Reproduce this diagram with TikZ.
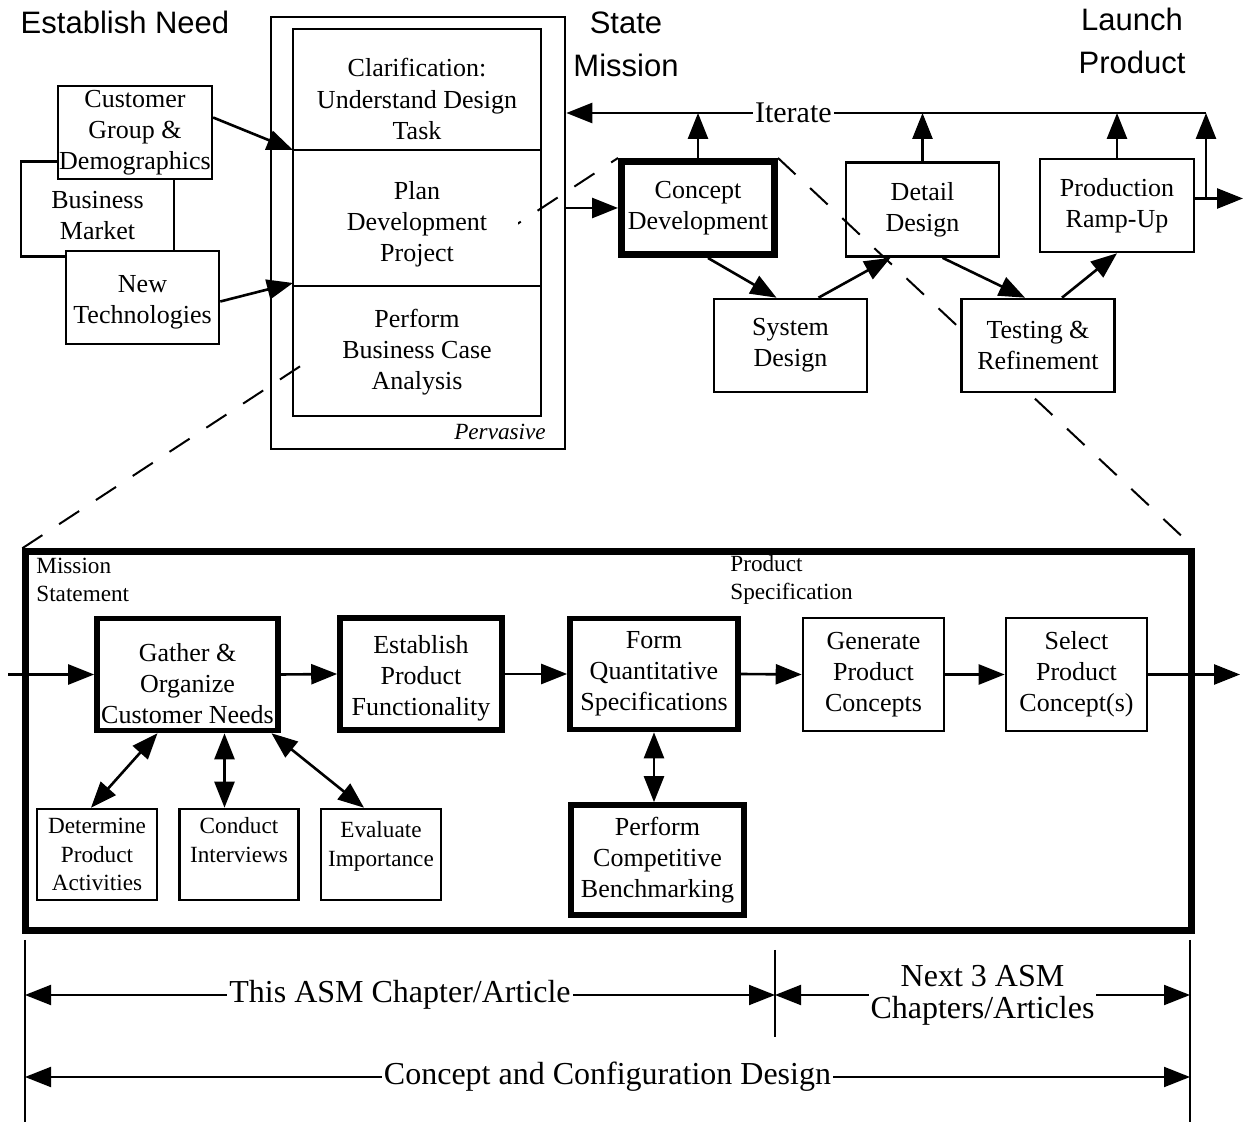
\documentclass[tikz,border=0pt]{standalone}
\usepackage{fontspec}
\setmainfont{Liberation Serif}
\newfontfamily\sansfam{Liberation Sans}
\usetikzlibrary{arrows.meta,calc}
\pgfdeclarelayer{background}
\pgfsetlayers{background,main}
\newcommand{\boxfont}{\fontsize{13}{15.6}\selectfont}
\newcommand{\smallfont}{\fontsize{11.6}{14.4}\selectfont}
\newcommand{\headfont}{\sansfam\fontsize{15.5}{21.5}\selectfont}
\newcommand{\dimfont}{\fontsize{16}{16}\selectfont}
\newcommand{\iterfont}{\fontsize{15}{18}\selectfont}
\newcommand{\droptext}[1]{\rule{0pt}{#1}}

\begin{document}
\begin{tikzpicture}[x=0.5pt,y=-0.5pt,line join=miter,>={Triangle[length=13pt,width=10pt]},
  box/.style={draw,line width=1.3pt,align=center,inner sep=0.5pt,font=\boxfont},
  heavy/.style={box,line width=2.8pt},
  minibox/.style={box,font=\smallfont},
  sect/.style={fill=white,align=center,inner sep=1pt,font=\boxfont,minimum width=101pt},
  head/.style={align=center,font=\headfont},
  note/.style={align=left,anchor=west,inner sep=0pt,font=\smallfont},
  flow/.style={->,line width=1.3pt},
  both/.style={<->,line width=1.3pt},
  zoomline/.style={line width=1pt,dash pattern=on 12pt off 10pt},
  dim/.style={<->,line width=1pt},
  tick/.style={line width=0.7pt},
  dimlabel/.style={fill=white,align=center,inner sep=1pt,font=\dimfont}]
\useasboundingbox (0,0) rectangle (1244,1122);

\node[head] (need) at (125,22) {Establish Need};
\node[head] (mission) at (626,44) {State\\Mission};
\node[head] (launch) at (1132,41) {Launch\\Product};

\node[box,minimum width=76.5pt,minimum height=47.5pt] (market) at (97.5,209) {\droptext{15pt}Business\\Market};
\node[box,fill=white,minimum width=76.5pt,minimum height=46.5pt] (customer) at (135,132.5) {Customer\\Group \&\\Demographics};
\node[box,fill=white,minimum width=76.5pt,minimum height=46.5pt] (newtech) at (142.5,297.5) {\droptext{13pt}New\\Technologies};

\node[draw,line width=1.3pt,minimum width=147pt,minimum height=216pt] (frame) at (418,233) {};
\node[sect] (clarify) at (417,99) {Clarification:\\Understand Design\\Task};
\node[sect,minimum height=66pt] (plan) at (417,224) {Plan\\Development\\Project};
\node[sect,minimum height=64pt] (perform) at (417,352) {Perform\\Business Case\\Analysis};
\coordinate (div1) at (293,150);
\coordinate (div2) at (293,286);
\draw[line width=1.3pt] (293,29) rectangle (541,416);
\draw[line width=1.3pt] (div1) -- (541,150);
\draw[line width=1.3pt] (div2) -- (541,286);
\node[font=\itshape\smallfont] (pervasive) at (500,432) {Pervasive};

\node[heavy,line width=3.5pt,minimum width=76.5pt,minimum height=46.5pt] (concept) at (698,208) {Concept\\Development};
\node[box,minimum width=76.5pt,minimum height=47pt] (detail) at (922.5,209.5) {Detail\\Design};
\node[box,minimum width=77pt,minimum height=46.5pt] (prod) at (1117,205.5) {Production\\Ramp-Up};
\node[box,minimum width=76.5pt,minimum height=46.5pt] (sysd) at (790.5,345.5) {System\\Design};
\node[box,fill=white,minimum width=76.5pt,minimum height=46.5pt] (test) at (1038,345.5) {Testing \&\\Refinement};

\coordinate (itR) at (1206,113);
\coordinate (rim) at (1243,0);
\draw[flow] (itR) -- node[pos=0.645,fill=white,inner sep=1pt,font=\iterfont]{Iterate} (frame.east |- itR);
\draw[flow] (concept.north) -- (concept.north |- itR);
\draw[flow] (detail.north) -- (detail.north |- itR);
\draw[flow] (prod.north) -- (prod.north |- itR);
\draw[flow] (frame.east |- concept.west) -- (concept.west);
\coordinate (exit) at ($(prod.east)+(0,-7)$);
\coordinate (fork) at (exit -| itR);
\draw[flow] (exit) -- (exit -| rim);
\draw[flow] (fork) -- (itR);
\draw[flow] ($(concept.south)+(10,0)$) -- ($(sysd.north)+(-14,0)$);
\draw[flow] ($(sysd.north)+(28,0)$) -- ($(detail.south)+(-32,0)$);
\draw[flow] ($(detail.south)+(20,0)$) -- ($(test.north)+(-13,0)$);
\draw[flow] ($(test.north)+(24,0)$) -- (prod.south);
\draw[flow] ($(customer.east)+(0,-15)$) -- (div1);
\draw[flow] ($(newtech.east)+(0,4)$) -- ($(div2)+(0,-3)$);

\node[draw,line width=3.2pt,minimum width=583pt,minimum height=189.5pt] (stage) at (608.5,741) {};
\node[note] (mstmt) at (36,580) {Mission\\Statement};
\node[note] (pspec) at (730,580) {Product\\Specification};

\node[heavy,minimum width=90.5pt,minimum height=56pt] (gather) at (187.5,674.5) {\droptext{18pt}Gather \&\\Organize\\Customer Needs};
\node[heavy,minimum width=81pt,minimum height=56pt] (establish) at (421,674) {\droptext{13.4pt}Establish\\Product\\Functionality};
\node[heavy,minimum width=84pt,minimum height=55.5pt] (form) at (654,674) {Form\\Quantitative\\Specifications};
\node[box,minimum width=70.5pt,minimum height=56.5pt] (generate) at (873.5,674.5) {Generate\\Product\\Concepts};
\node[box,minimum width=70.5pt,minimum height=56.5pt] (select) at (1076.5,674.5) {Select\\Product\\Concept(s)};
\node[heavy,minimum width=86.5pt,minimum height=55pt] (bench) at (657.5,860) {Perform\\Competitive\\Benchmarking};
\node[minibox,minimum width=60pt,minimum height=45.5pt] (determine) at (97,854.5) {Determine\\Product\\Activities};
\node[minibox,minimum width=59.5pt,minimum height=45.5pt] (conduct) at (239,854.5) {Conduct\\Interviews\\\phantom{I}};
\node[minibox,minimum width=60pt,minimum height=45.5pt] (evaluate) at (381,854.5) {\droptext{12pt}Evaluate\\Importance\\\phantom{I}};

\coordinate (feed) at (8,0);
\coordinate (outlet) at (1240,0);
\draw[flow] (gather.west -| feed) -- (gather.west);
\draw[flow] (gather.east) -- (establish.west);
\draw[flow] (establish.east) -- (form.west);
\draw[flow] (form.east) -- (generate.west);
\draw[flow] (generate.east) -- (select.west);
\draw[flow] (select.east) -- (select.east -| outlet);
\coordinate (gc) at ($(gather.south)+(37,0)$);
\draw[both] ($(gather.south)+(-30,0)$) -- ($(determine.north)+(-6,0)$);
\draw[both] (gc) -- (gc |- conduct.north);
\draw[both] ($(gather.south)+(84,0)$) -- ($(evaluate.north)+(-17,0)$);
\draw[both] (form.south) -- (form.south |- bench.north);

\begin{pgfonlayer}{background}
\draw[zoomline] (stage.north west) -- (concept.north west);
\draw[zoomline] (concept.north east) -- (stage.north east);
\end{pgfonlayer}

\coordinate (d0) at (25,940);
\coordinate (d1) at (775,950);
\coordinate (d2) at (1190,940);
\draw[tick] (d0) -- (25,1122);
\draw[tick] (d1) -- (775,1037);
\draw[tick] (d2) -- (1190,1122);
\draw[dim] (25,995) -- node[dimlabel]{This ASM Chapter/Article} (775,995);
\draw[dim] (775,995) -- node[dimlabel]{Next 3 ASM\\Chapters/Articles} (1190,995);
\draw[dim] (25,1077) -- node[dimlabel]{Concept and Configuration Design} (1190,1077);
\end{tikzpicture}
\end{document}
